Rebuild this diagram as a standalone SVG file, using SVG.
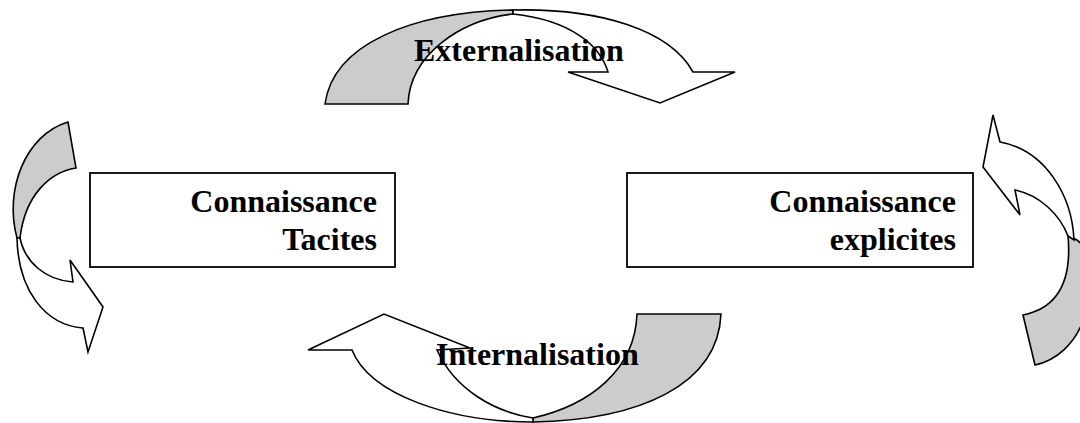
<svg xmlns="http://www.w3.org/2000/svg" width="1080" height="423" viewBox="0 0 1080 423">
<defs>
<style>
.bg{fill:#ffffff}
.box{fill:#ffffff;stroke:#000000;stroke-width:1.8}
.front{fill:#ffffff;stroke:#000000;stroke-width:1.6;stroke-linejoin:miter}
.back{fill:#cccccc;stroke:#000000;stroke-width:1.6;stroke-linejoin:miter}
.t{font-family:"Liberation Serif","Times New Roman",serif;font-weight:bold;font-size:32px;fill:#000000}
.r{text-anchor:end}
</style>
</defs>
<rect class="bg" x="0" y="0" width="1080" height="423"/>
<g id="connectors">
  <g id="arrow-externalisation">
    <path class="back" d="M325,104 C333,45 410,12 513,10 L513,14 C460,20 410,55 408,104 Z"/>
    <path class="front" d="M513,10 C600,8 670,30 693,72 L735,72 L660,103 L568,72 L608,72 C600,45 570,20 513,14 Z"/>
    <text class="t" x="414" y="61">Externalisation</text>
  </g>
  <g id="arrow-internalisation">
    <path class="back" d="M637,314 L721,314 C718,385 640,420 533,422 L533,418 C590,405 635,370 637,314 Z"/>
    <path class="front" d="M533,422 C450,422 370,395 352,350 L308,350 L384,314 L470,348 L437,350 C455,390 495,412 533,418 Z"/>
    <text class="t" x="436" y="365">Internalisation</text>
  </g>
  <g id="arrow-left-loop">
    <path class="back" d="M68,122 L76,168 C50,172 25,195 20,238 L17,238 C4,190 25,135 68,122 Z"/>
    <path class="front" d="M17,238 C18,290 45,325 83,328 L88,352 L103,307 L70,260 L73,282 C45,280 25,262 20,238 Z"/>
  </g>
  <g id="arrow-right-loop">
    <path class="back" d="M1068,236 C1072,280 1058,308 1023,315 L1035,365 C1080,355 1100,300 1085,250 C1080,240 1074,238 1068,236 Z"/>
    <path class="front" d="M1000,142 C1045,150 1072,195 1074,240 L1068,236 C1060,215 1040,195 1015,190 L1020,215 L983,167 L993,115 Z"/>
  </g>
</g>
<g id="node-tacites">
  <rect class="box" x="90" y="173" width="305" height="94"/>
  <text class="t r" x="377" y="212">Connaissance</text>
  <text class="t r" x="377" y="250">Tacites</text>
</g>
<g id="node-explicites">
  <rect class="box" x="627" y="173" width="346" height="94"/>
  <text class="t r" x="956" y="212">Connaissance</text>
  <text class="t r" x="956" y="250">explicites</text>
</g>
</svg>
